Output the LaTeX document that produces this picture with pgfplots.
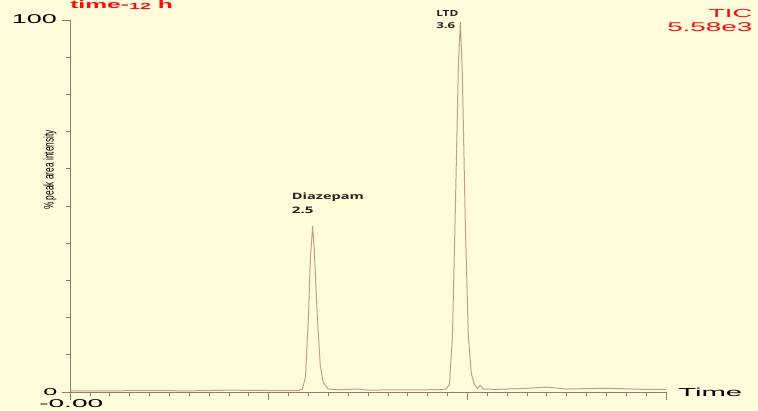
\documentclass[border=0pt]{standalone}
\usepackage{pgfplots}
\pgfplotsset{compat=1.18}
\usepackage{graphicx}
\usepackage{fontspec}
\setmainfont{Liberation Sans}
\newfontfamily\os{Open Sans}
\definecolor{bg}{RGB}{255,252,220}
\definecolor{axiscol}{RGB}{140,125,110}
\definecolor{linecol}{RGB}{196,160,130}
\definecolor{txtred}{RGB}{255,10,10}
\begin{document}
\begin{tikzpicture}
\useasboundingbox (0,0) rectangle (568.5pt,308.25pt);
\fill[bg] (0,0) rectangle (568.5pt,308.25pt);
\begin{axis}[at={(52.5pt,14.25pt)}, anchor=south west, scale only axis,
  width=447pt, height=279pt,
  xmin=0, xmax=6, ymin=0, ymax=100,
  axis lines*=left,
  axis line style={draw=axiscol, line width=0.6pt},
  xtick={0,2,4,6}, minor xtick={0.2,0.4,...,5.9},
  ytick={0,100}, minor y tick num=9,
  xticklabels={}, yticklabels={},
  tick align=outside,
  major tick length=6pt, minor tick length=3pt,
  tick style={draw=axiscol, line width=0.5pt},
  clip=false]
\addplot[color=linecol, line width=0.75pt] coordinates {
(0,0.3) (0.4,0.3) (0.8,0.4) (1.2,0.3) (1.6,0.5) (2.0,0.4) (2.3,0.4)
(2.34,0.8) (2.37,4) (2.40,20) (2.42,36) (2.443,44.6) (2.46,38) (2.49,20)
(2.52,7) (2.55,2.5) (2.60,0.8) (2.7,0.6) (2.9,0.8) (3.0,0.5) (3.3,0.6)
(3.6,0.6) (3.78,0.7) (3.82,2) (3.85,15) (3.88,50) (3.91,88) (3.93,99.5)
(3.95,85) (3.98,45) (4.01,15) (4.04,5) (4.07,2) (4.10,1.0) (4.13,1.8)
(4.16,0.8) (4.3,0.7) (4.6,1.0) (4.8,1.3) (5.0,0.8) (5.4,1.0) (5.8,0.7) (6.0,0.7)
};
\end{axis}
\begin{scope}[x=0.75pt,y=0.75pt]
\node[inner sep=0, anchor=south west] at (11.7,387) {\resizebox*{33.75pt}{6.75pt}{100}};
\node[inner sep=0, anchor=south west] at (43,15) {\resizebox*{10.5pt}{5.25pt}{0}};
\node[inner sep=0, anchor=south west] at (39,3) {\resizebox*{48pt}{6pt}{-0.00}};
\node[inner sep=0, anchor=south west] at (678,14) {\resizebox*{48pt}{6.4pt}{Time}};
\node[inner sep=0, anchor=south west, text=txtred] at (708,392.7) {\resizebox*{33pt}{6.2pt}{TIC}};
\node[inner sep=0, anchor=south west, text=txtred] at (667,379.3) {\resizebox*{63.75pt}{6.75pt}{5.58e3}};
\node[inner sep=0, anchor=south west, text=txtred] at (70,401.5) {\resizebox*{77pt}{6.5pt}{\bfseries time-\raisebox{-0.1ex}{\footnotesize 12} h}};
\node[inner sep=0, anchor=south west, text={rgb,255:red,40;green,35;blue,30}] at (436,394.3) {\resizebox*{16.5pt}{4.5pt}{\os\bfseries LTD}};
\node[inner sep=0, anchor=south west, text={rgb,255:red,40;green,35;blue,30}] at (436,381.7) {\resizebox*{14.25pt}{4.5pt}{\os\bfseries 3.6}};
\node[inner sep=0, anchor=base west, text={rgb,255:red,40;green,35;blue,30}] at (291.7,211.7) {\resizebox{54pt}{5pt}{\os\bfseries Diazepam}};
\node[inner sep=0, anchor=south west, text={rgb,255:red,40;green,35;blue,30}] at (291.7,196.7) {\resizebox*{16.2pt}{5pt}{\os\bfseries 2.5}};
\node[inner sep=0, rotate=90] at (50,241) {\resizebox*{60pt}{9.75pt}{\% peak area intensity}};
\end{scope}
\end{tikzpicture}
\end{document}
